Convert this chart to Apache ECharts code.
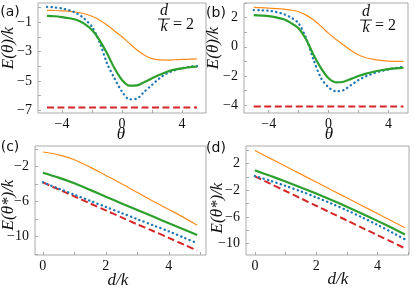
<!DOCTYPE html>
<html><head><meta charset="utf-8">
<script src="https://cdn.jsdelivr.net/npm/echarts@6/dist/echarts.min.js"></script>
<style>html,body{margin:0;padding:0;background:#fff}#c{width:415px;height:289px}</style>
</head><body><div id="c"></div>
<script>
// ---- data ----
const theta = [-5,-4.5,-4,-3.5,-3,-2.5,-2,-1.5,-1,-0.5,0,0.5,1,1.5,2,2.5,3,3.5,4,4.5,5];
const aOrange = [-0.2,-0.21,-0.23,-0.27,-0.33,-0.43,-0.6,-0.85,-1.2,-1.6,-2.0,-2.45,-2.9,-3.25,-3.48,-3.57,-3.58,-3.56,-3.54,-3.52,-3.5];
const aGreen  = [-0.57,-0.6,-0.66,-0.74,-0.86,-1.12,-1.54,-2.22,-3.12,-4.14,-4.93,-5.32,-5.3,-5.08,-4.82,-4.58,-4.37,-4.23,-4.14,-4.07,-4.03];
const aBlue   = [0.04,0.0,-0.07,-0.2,-0.41,-0.78,-1.32,-2.35,-3.8,-4.82,-5.72,-6.25,-6.2,-5.72,-5.27,-4.82,-4.48,-4.28,-4.14,-4.04,-3.99];
const aRed    = [-6.8,-6.8,-6.8,-6.8,-6.8,-6.8,-6.8,-6.8,-6.8,-6.8,-6.8,-6.8,-6.8,-6.8,-6.8,-6.8,-6.8,-6.8,-6.8,-6.8,-6.8];
const bOrange = [2.7,2.68,2.65,2.62,2.58,2.51,2.4,2.17,1.83,1.4,0.92,0.5,0.12,-0.25,-0.57,-0.75,-0.86,-0.93,-0.98,-1.0,-1.0];
const bGreen  = [2.17,2.14,2.1,2.01,1.88,1.62,1.26,0.5,-0.57,-1.48,-2.16,-2.44,-2.4,-2.2,-2.0,-1.84,-1.71,-1.61,-1.53,-1.48,-1.44];
const bBlue   = [2.51,2.5,2.47,2.38,2.24,2.0,1.6,0.57,-0.91,-2.16,-2.78,-3.05,-2.97,-2.62,-2.28,-2.02,-1.82,-1.67,-1.55,-1.45,-1.37];
const bRed    = [-4.1,-4.1,-4.1,-4.1,-4.1,-4.1,-4.1,-4.1,-4.1,-4.1,-4.1,-4.1,-4.1,-4.1,-4.1,-4.1,-4.1,-4.1,-4.1,-4.1,-4.1];
const dk = [0,0.5,1,1.5,2,2.5,3,3.5,4,4.5,4.9];
const cOrange = [-0.32,-0.65,-1.2,-2.05,-3.0,-3.95,-4.95,-5.95,-6.9,-7.85,-8.7];
const cGreen  = [-2.69,-3.25,-3.9,-4.65,-5.43,-6.2,-6.95,-7.7,-8.47,-9.2,-9.8];
const cBlue   = [-3.78,-4.5,-5.2,-5.9,-6.6,-7.3,-8.0,-8.7,-9.4,-10.15,-10.75];
const cRed    = [-3.8,-4.6,-5.4,-6.2,-7.0,-7.8,-8.6,-9.35,-10.15,-10.95,-11.6];
const dOrange = [4.0,2.81,1.62,0.43,-0.76,-1.95,-3.13,-4.32,-5.51,-6.7,-7.65];
const dGreen  = [1.0,0.18,-0.67,-1.57,-2.5,-3.47,-4.48,-5.52,-6.61,-7.73,-8.65];
const dBlue   = [0.15,-0.56,-1.33,-2.16,-3.05,-4.0,-5.01,-6.08,-7.21,-8.4,-9.4];
const dRed    = [0.1,-1.01,-2.11,-3.22,-4.33,-5.44,-6.54,-7.65,-8.76,-9.86,-10.75];
// tick labels
const thetaTicks = [-4,-2,0,2,4], thetaLabels = [-4,0,4];
const aYTicks = [-7,-6,-5,-4,-3,-2,-1,0], aYLabels = [-7,-5,-3,-1];
const bYTicks = [-4,-3,-2,-1,0,1,2,3], bYLabels = [-4,-2,0,2];
const dkTicks = [0,1,2,3,4,5], dkLabels = [0,2,4];
const cYTicks = [-12,-10,-8,-6,-4,-2,0], cYLabels = [-10,-6,-2];
const dYTicks = [-10,-8,-6,-4,-2,0,2,4], dYLabels = [-10,-6,-2,2];

const COL = {orange:'#ff8c1a', green:'#2ca02c', blue:'#1f77b4', red:'#d62728'};
const FRAME = '#aaaaaa';
const tickFont = {fontFamily:'Liberation Serif', fontSize:14, color:'#111'};
const fmt = v => (v < 0 ? '\u2212' + Math.abs(v) : String(v));

function xAx(grid, min, max, ticks, labels){
  return {type:'value', gridIndex:grid, min, max,
    axisLine:{show:false, onZero:false}, splitLine:{show:false},
    axisTick:{show:true, inside:true, length:3, customValues:ticks, lineStyle:{color:FRAME}},
    axisLabel:{customValues:labels, formatter:fmt, margin:4, ...tickFont}};
}
function yAx(grid, min, max, ticks, labels){
  return {type:'value', gridIndex:grid, min, max,
    axisLine:{show:false, onZero:false}, splitLine:{show:false},
    axisTick:{show:true, inside:true, length:3, customValues:ticks, lineStyle:{color:FRAME}},
    axisLabel:{customValues:labels, formatter:fmt, margin:6, ...tickFont}};
}
function pairs(xs, ys){ return xs.map((x,i)=>[x, ys[i]]); }
function panelSeries(idx, xs, o, g, b, r){
  return [
    {type:'line', xAxisIndex:idx, yAxisIndex:idx, data:pairs(xs,r), showSymbol:false, smooth:0.3,
      lineStyle:{color:COL.red, width:2, type:[7,3.5]}},
    {type:'line', xAxisIndex:idx, yAxisIndex:idx, data:pairs(xs,o), showSymbol:false, smooth:0.3,
      lineStyle:{color:COL.orange, width:1.2}},
    {type:'line', xAxisIndex:idx, yAxisIndex:idx, data:pairs(xs,b), showSymbol:false, smooth:0.3,
      lineStyle:{color:COL.blue, width:2.3, type:[0.3,4.2], cap:'round'}},
    {type:'line', xAxisIndex:idx, yAxisIndex:idx, data:pairs(xs,g), showSymbol:false, smooth:0.3,
      lineStyle:{color:COL.green, width:2.2}}
  ];
}
const serifI = 'italic 17px "Liberation Serif"';
function txt(x,y,t,font,rot,align){
  return {type:'text', x, y, rotation:rot||0, silent:true,
    style:{text:t, font:font, fill:'#111', textAlign:align||'center', textVerticalAlign:'middle'}};
}
function frac(cx, cy, xEq){
  return [
    txt(cx, cy-8, 'd', 'italic 16px "Liberation Serif"'),
    {type:'line', shape:{x1:cx-6, y1:cy, x2:cx+6, y2:cy}, style:{stroke:'#111', lineWidth:0.9}},
    txt(cx, cy+8, 'k', 'italic 16px "Liberation Serif"'),
    txt(xEq, cy+6, '= 2', '16px "Liberation Serif"', 0, 'left')
  ];
}

const chart = echarts.init(document.getElementById('c'), null, {renderer:'canvas'});
chart.setOption({
  animation:false,
  grid:[
    {left:38, top:3, width:168, height:110, show:true, borderColor:FRAME, borderWidth:1},
    {left:244, top:3, width:164, height:110, show:true, borderColor:FRAME, borderWidth:1},
    {left:35, top:146, width:171, height:109, show:true, borderColor:FRAME, borderWidth:1},
    {left:246, top:146, width:163, height:109, show:true, borderColor:FRAME, borderWidth:1}
  ],
  xAxis:[
    xAx(0,-5.6,5.6,thetaTicks,thetaLabels),
    xAx(1,-5.65,5.3,thetaTicks,thetaLabels),
    xAx(2,-0.25,5.18,dkTicks,dkLabels),
    xAx(3,-0.29,5.03,dkTicks,dkLabels)
  ],
  yAxis:[
    yAx(0,-7.18,0.3,aYTicks,aYLabels),
    yAx(1,-4.54,3.0,bYTicks,bYLabels),
    yAx(2,-12.1,0.37,cYTicks,cYLabels),
    yAx(3,-11.75,4.67,dYTicks,dYLabels)
  ],
  series:[
    ...panelSeries(0, theta, aOrange, aGreen, aBlue, aRed),
    ...panelSeries(1, theta, bOrange, bGreen, bBlue, bRed),
    ...panelSeries(2, dk, cOrange, cGreen, cBlue, cRed),
    ...panelSeries(3, dk, dOrange, dGreen, dBlue, dRed)
  ],
  graphic:[
    txt(10, 12, '(a)', '14px "DejaVu Sans"'),
    txt(216, 13, '(b)', '14px "DejaVu Sans"'),
    txt(10, 147, '(c)', '14px "DejaVu Sans"'),
    txt(216, 148, '(d)', '14px "DejaVu Sans"'),
    txt(9, 48, 'E(θ)/k', serifI, Math.PI/2),
    txt(214, 48, 'E(θ)/k', serifI, Math.PI/2),
    txt(9, 205, 'E(θ*)/k', serifI, Math.PI/2),
    txt(218, 208, 'E(θ*)/k', serifI, Math.PI/2),
    txt(121, 135, 'θ', serifI),
    txt(329, 135, 'θ', serifI),
    txt(118, 281, 'd/k', serifI),
    txt(338, 280, 'd/k', serifI),
    ...frac(164, 19, 173),
    ...frac(366, 20, 375)
  ]
});
</script></body></html>
